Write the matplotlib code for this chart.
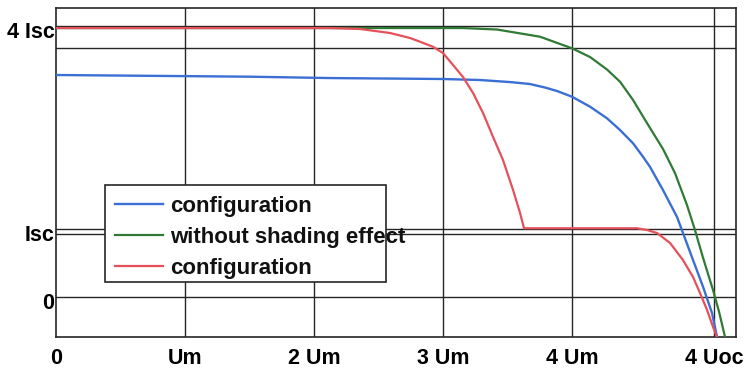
import matplotlib
matplotlib.use("Agg")
import matplotlib.pyplot as plt
from matplotlib.patches import Rectangle
from matplotlib.transforms import ScaledTranslation

plt.rcParams['font.family'] = ['Liberation Sans', 'DejaVu Sans']
plt.rcParams['font.weight'] = 'bold'

# ---- data (x in units of Um, y in units of Isc) ----
blue_x = [0.0, 1.504, 2.124, 3.0, 3.287, 3.519, 3.674, 3.791, 3.884, 4.0, 4.140, 4.271,
          4.372, 4.473, 4.550, 4.605, 4.705, 4.814, 4.860, 4.938, 5.016, 5.085, 5.124, 5.136]
blue_y = [3.277, 3.252, 3.232, 3.218, 3.203, 3.173, 3.144, 3.092, 3.041, 2.956, 2.809, 2.638,
          2.465, 2.269, 2.071, 1.919, 1.579, 1.181, 0.945, 0.546, 0.148, -0.236, -0.590, -0.708]

green_x = [0.0, 3.155, 3.419, 3.674, 3.752, 4.0, 4.140, 4.271, 4.372, 4.473, 4.581, 4.705,
           4.798, 4.891, 4.953, 5.016, 5.093, 5.140, 5.186, 5.202]
green_y = [3.97, 3.97, 3.948, 3.867, 3.842, 3.671, 3.542, 3.358, 3.178, 2.908, 2.568, 2.185,
           1.830, 1.358, 0.989, 0.576, 0.103, -0.221, -0.590, -0.708]

red_x = [0.0, 2.124, 2.357, 2.589, 2.744, 2.822, 2.922, 3.0, 3.078, 3.155, 3.233, 3.310,
         3.388, 3.465, 3.543, 3.597, 3.628, 4.504, 4.581, 4.659, 4.760, 4.860, 4.938,
         4.992, 5.047, 5.093, 5.124, 5.140]
red_y = [3.97, 3.97, 3.956, 3.897, 3.823, 3.768, 3.694, 3.601, 3.424, 3.247, 3.011, 2.716,
         2.362, 2.022, 1.579, 1.240, 1.015, 1.015, 0.989, 0.945, 0.797, 0.546, 0.295,
         0.059, -0.192, -0.443, -0.590, -0.708]

labels = ['configuration', 'without shading effect', 'configuration']
colors = ['#3b6fd4', '#2f7a34', '#e5505a']

xtick_pos = [0, 1, 2, 3, 4, 5.1]
xtick_lab = ['0', 'Um', '2 Um', '3 Um', '4 Um', '4 Uoc']
ytick_pos = [0, 1, 4]
ytick_lab = ['0', 'Isc', '4 Isc']
hlines = [4.0, 3.675, 1.0, 0.926, 0.0]
vlines = [1, 2, 3, 4, 5.1]

W, H = 746, 372
fig = plt.figure(figsize=(W / 100, H / 100), dpi=100)
ax = fig.add_axes([56 / W, (H - 337) / H, 680 / W, 329 / H])
ax.set_xlim(0, 5.271)
ax.set_ylim(-0.590, 4.266)

gc = '#262626'
for y in hlines:
    ax.axhline(y, color=gc, lw=1.0, zorder=1)
for x in vlines:
    ax.axvline(x, color=gc, lw=1.0, zorder=1)

lb, = ax.plot(blue_x, blue_y, color=colors[0], lw=1.7, zorder=3)
lg, = ax.plot(green_x, green_y, color=colors[1], lw=1.6, zorder=3)
lr, = ax.plot(red_x, red_y, color=colors[2], lw=1.6, zorder=3)

for s in ax.spines.values():
    s.set_color(gc)
    s.set_linewidth(1.2)

ax.set_xticks(xtick_pos)
ax.set_xticklabels(xtick_lab, fontsize=15.5, fontweight='bold')
ax.set_yticks(ytick_pos)
ax.set_yticklabels(ytick_lab, fontsize=15.5, fontweight='bold')
ax.tick_params(axis='both', length=0)
ax.tick_params(axis='x', pad=8)
ax.tick_params(axis='y', pad=1)
off = ScaledTranslation(0, -4 / 100, fig.dpi_scale_trans)
for t in ax.get_yticklabels():
    t.set_transform(t.get_transform() + off)

# legend frame (narrower than its text, as in the reference)
rect = Rectangle((105 / W, 1 - 282 / H), 281 / W, 97 / H, transform=fig.transFigure,
                 facecolor='white', edgecolor=gc, lw=1.2, zorder=4)
ax.add_patch(rect)
leg = ax.legend([lb, lg, lr], labels, loc='upper left',
                bbox_to_anchor=(115 / W, 1 - 196 / H), bbox_transform=fig.transFigure,
                frameon=False, borderaxespad=0, borderpad=0,
                handlelength=2.16, handletextpad=0.3, labelspacing=0.44,
                prop={'size': 16, 'weight': 'bold'})
leg.set_zorder(6)
for t in leg.get_texts():
    t.set_color('#111111')

fig.savefig('out.png', dpi=100, facecolor='white')
